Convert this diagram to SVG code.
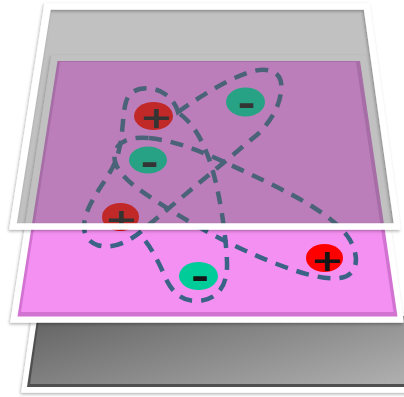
<svg xmlns="http://www.w3.org/2000/svg" width="404" height="397" viewBox="0 0 404 397">
<defs>
<filter id="sh" x="-10%" y="-10%" width="120%" height="120%">
<feDropShadow dx="-1" dy="1.5" stdDeviation="1.5" flood-color="#000" flood-opacity="0.3"/>
</filter>
<linearGradient id="gBase" x1="0" y1="0.2" x2="1" y2="0.8">
<stop offset="0" stop-color="#686868"/>
<stop offset="1" stop-color="#adadad"/>
</linearGradient>
</defs>
<style>
.frame{fill:#fff;stroke:#fff;stroke-width:1.5;stroke-linejoin:round;}
.dash{fill:none;stroke:#3a6385;stroke-width:4.5;stroke-dasharray:13 9;}
.pos ellipse{fill:#ff0000;}
.neg ellipse{fill:#00cc99;}
.sign{font-family:"DejaVu Sans",sans-serif;font-weight:bold;fill:#151515;text-anchor:middle;}
</style>

<g id="base-plate">
<path class="frame" filter="url(#sh)" d="M33,314 L430,314 L430,392 L22,392 Z"/>
<path fill="#505050" d="M37.5,316 L430,316 L430,387 L27,387 Z"/>
<path fill="url(#gBase)" d="M39.5,316 L430,316 L430,384 L30,384 Z"/>
</g>

<g id="mid-plate">
<path class="frame" filter="url(#sh)" d="M52,56 L366,56 L403,322 L11,322 Z"/>
<path fill="#d273d2" d="M57.5,61 L360,61 L397.5,316.5 L17.5,316.5 Z"/>
<path fill="#f590f3" d="M60,62 L356,62 L393.5,312 L21,312 Z"/>
</g>

<g id="orbits">
<path class="dash" d="M178,112 C195,100 225,80 250,72 C270,66 284,72 281,92 C279,108 270,122 258,134 L145,228 C130,242 112,250 97,245 C80,238 82,222 90,205 C100,185 115,170 119,150 C124,130 122,108 128,97 C134,86 155,86 165,94 C172,99 176,105 178,112 Z"/>
<path class="dash" d="M149,138 C185,142 215,158 250,174 C290,193 335,215 350,240 C360,258 358,275 340,278 C320,281 285,268 255,255 C220,240 175,215 140,190 C120,176 108,160 118,146 C125,138 138,137 149,138 Z"/>
<path class="dash" d="M180,114 C195,125 205,145 212,168 C220,195 226,235 227,262 C228,285 218,300 198,301 C180,302 170,290 163,272 C155,255 148,242 138,233"/>
</g>

<g id="pos1" class="pos">
<ellipse cx="153.5" cy="116" rx="19.5" ry="14"/>
<text class="sign" font-size="40" transform="translate(156,119) scale(1,0.75)" y="12.5">+</text>
</g>
<g id="neg1" class="neg">
<ellipse cx="245.5" cy="102" rx="19.5" ry="14.5"/>
<text class="sign" font-size="44" transform="translate(246.5,105.5) scale(1,0.75)" y="13">-</text>
</g>
<g id="neg2" class="neg">
<ellipse cx="148" cy="160" rx="19" ry="13.5"/>
<text class="sign" font-size="44" transform="translate(149.5,164) scale(1,0.75)" y="13">-</text>
</g>
<g id="pos2" class="pos">
<ellipse cx="120.5" cy="217" rx="18.5" ry="14"/>
<text class="sign" font-size="40" transform="translate(121,221) scale(1,0.75)" y="12.5">+</text>
</g>
<g id="neg3" class="neg">
<ellipse cx="198.5" cy="276" rx="19.5" ry="14"/>
<text class="sign" font-size="44" transform="translate(200,278.5) scale(1,0.75)" y="13">-</text>
</g>
<g id="pos3" class="pos">
<ellipse cx="324.5" cy="258" rx="18.5" ry="14"/>
<text class="sign" font-size="40" transform="translate(327,262) scale(1,0.75)" y="12.5">+</text>
</g>

<g id="top-plate">
<path fill="#646464" fill-opacity="0.4" d="M50,9 L364.5,9 L394.5,224 L16,224 Z"/>
<path class="frame" filter="url(#sh)" fill-rule="evenodd" d="M45,4 L369,4 L400,229 L10,229 Z M50,9 L364.5,9 L394.5,224 L16,224 Z"/>
</g>
</svg>
